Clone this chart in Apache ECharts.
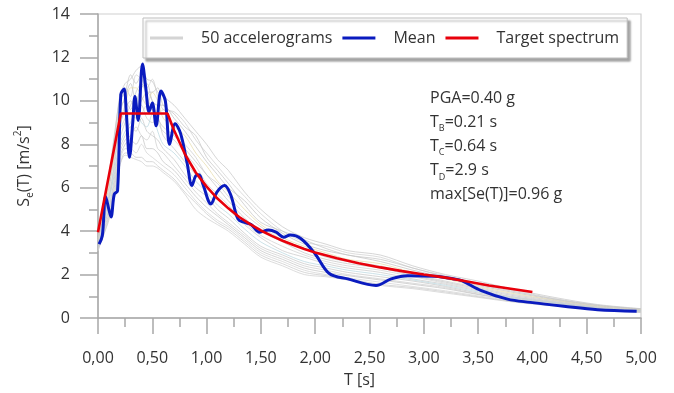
<!DOCTYPE html>
<html><head><meta charset="utf-8">
<script src="https://cdn.jsdelivr.net/npm/echarts@6/dist/echarts.min.js"></script>
<style>html,body{margin:0;padding:0;background:#fff}#c{width:674px;height:393px}</style>
</head><body><div id="c"></div>
<script>
// Periods (s) at which the accelerogram curves were read
const periods = [0,0.05,0.1,0.15,0.2,0.25,0.3,0.35,0.4,0.45,0.5,0.55,0.6,0.7,0.8,0.9,1.0,1.1,1.2,1.35,1.5,1.7,1.9,2.1,2.3,2.6,2.9,3.2,3.5,3.8,4.2,4.6,5.0];
// Representative accelerogram spectra (m/s^2)
const acc01 = [4.0,5.3,6.5,8.2,10.2,10.8,11.0,11.4,11.6,11.0,10.9,10.4,10.2,9.8,9.2,8.6,8.0,7.3,6.8,5.8,5.0,4.2,3.7,3.4,3.1,2.9,2.4,2.0,1.7,1.35,0.95,0.62,0.43];
const acc02 = [3.9,5.1,6.3,8.0,9.8,10.6,10.2,11.2,11.0,10.6,11.0,10.2,9.6,9.5,9.0,8.2,7.6,7.0,6.4,5.6,4.8,4.0,3.5,3.3,3.0,2.8,2.3,1.95,1.6,1.3,0.9,0.6,0.42];
const acc03 = [3.8,5.0,6.0,7.6,9.4,10.2,10.8,10.0,10.6,10.8,10.0,9.8,9.8,9.2,8.6,7.9,7.2,6.6,6.0,5.4,4.6,3.9,3.4,3.1,2.9,2.6,2.2,1.85,1.5,1.2,0.85,0.56,0.4];
const acc04 = [3.6,4.8,6.2,7.4,9.0,9.8,10.6,10.6,10.2,9.8,10.4,10.0,9.2,8.8,8.4,7.6,7.0,6.3,5.8,5.0,4.3,3.7,3.3,3.0,2.7,2.5,2.1,1.8,1.45,1.15,0.82,0.54,0.38];
const acc05 = [3.7,4.6,5.8,7.8,9.6,10.0,9.6,10.4,10.8,10.2,9.6,9.4,9.6,8.6,8.0,7.4,6.6,6.2,5.6,4.8,4.2,3.6,3.2,2.8,2.6,2.4,2.0,1.7,1.4,1.1,0.8,0.52,0.36];
const acc06 = [3.5,4.7,5.6,7.0,8.8,9.6,10.0,9.6,10.0,10.4,10.0,9.2,8.8,8.4,7.8,7.2,6.6,6.0,5.4,4.6,4.0,3.5,3.0,2.7,2.5,2.3,1.95,1.65,1.35,1.05,0.76,0.5,0.35];
const acc07 = [3.4,4.4,5.4,7.2,8.6,9.2,9.8,10.2,9.4,9.8,9.6,9.0,8.6,8.2,7.6,7.0,6.2,5.7,5.2,4.4,3.8,3.3,2.9,2.6,2.4,2.2,1.9,1.6,1.3,1.0,0.74,0.48,0.34];
const acc08 = [3.6,4.5,5.5,6.6,8.2,9.0,9.4,9.2,9.8,9.2,9.0,9.2,8.4,7.8,7.2,6.6,6.0,5.5,5.0,4.3,3.7,3.1,2.8,2.5,2.3,2.1,1.8,1.55,1.25,0.98,0.72,0.47,0.33];
const acc09 = [3.3,4.3,5.2,6.8,8.0,8.6,9.0,9.6,9.0,8.8,9.4,8.6,8.0,7.6,7.0,6.3,5.8,5.2,4.8,4.1,3.5,3.0,2.6,2.4,2.2,2.0,1.75,1.5,1.2,0.95,0.7,0.46,0.32];
const acc10 = [3.4,4.2,5.0,6.4,7.8,8.4,8.8,8.6,9.2,8.6,8.4,8.2,7.8,7.3,6.6,6.0,5.6,5.0,4.6,3.9,3.3,2.9,2.5,2.3,2.1,1.9,1.7,1.45,1.15,0.92,0.68,0.45,0.31];
const acc11 = [3.2,4.1,5.0,6.2,7.6,8.2,8.4,8.8,8.4,8.2,8.6,7.8,7.6,7.0,6.4,5.8,5.3,4.8,4.4,3.8,3.2,2.8,2.4,2.2,2.0,1.8,1.6,1.4,1.1,0.88,0.64,0.43,0.3];
const acc12 = [3.3,4.0,4.8,6.0,7.4,8.0,8.2,8.0,8.4,7.8,7.8,7.6,7.2,6.8,6.2,5.6,5.1,4.7,4.3,3.7,3.1,2.7,2.3,2.1,1.95,1.75,1.55,1.35,1.08,0.85,0.62,0.42,0.29];
const acc13 = [3.1,3.9,4.7,5.8,7.2,7.8,7.8,7.6,8.0,7.6,7.4,7.2,7.0,6.6,6.0,5.4,4.9,4.5,4.2,3.6,3.0,2.6,2.2,2.0,1.85,1.65,1.45,1.25,1.02,0.8,0.6,0.4,0.28];
const acc14 = [3.2,3.8,4.6,5.6,7.0,7.6,7.6,7.4,7.4,7.2,7.2,7.0,6.8,6.4,5.8,5.3,4.8,4.4,4.1,3.5,2.9,2.5,2.1,1.95,1.8,1.55,1.4,1.2,0.98,0.77,0.57,0.39,0.26];
const acc15 = [3.8,5.2,6.6,8.4,10.0,10.4,11.2,10.8,11.2,10.4,10.4,10.6,9.8,9.4,8.8,8.4,7.4,6.8,6.2,5.2,4.4,4.0,3.6,3.2,2.9,2.7,2.3,1.9,1.55,1.25,0.88,0.58,0.41];
const acc16 = [3.1,3.8,4.5,5.5,7.0,7.5,7.4,7.3,7.2,7.0,7.0,6.9,6.7,6.3,5.7,5.0,4.6,4.3,4.0,3.4,2.8,2.4,2.0,1.9,1.75,1.5,1.35,1.15,0.95,0.75,0.55,0.38,0.25];
const accelerograms = [acc01,acc02,acc03,acc04,acc05,acc06,acc07,acc08,acc09,acc10,acc11,acc12,acc13,acc14,acc15,acc16];
const accColors = ['#c6c6c6','#cfcfcf','#c2c2c2','#e6dba8','#cccccc','#c4c4c4','#d0d0d0','#c8c8c8','#b8d6df','#c6c6c6','#cdcdcd','#c3c3c3','#d2d2d2','#c9c9c9','#c5c5c5','#cecece'];

// Mean spectrum
const meanT  = [0.01,0.04,0.07,0.1,0.12,0.15,0.18,0.21,0.24,0.26,0.29,0.32,0.34,0.37,0.41,0.44,0.47,0.5,0.535,0.58,0.62,0.66,0.71,0.76,0.82,0.865,0.9,0.93,0.97,1.04,1.095,1.165,1.22,1.29,1.35,1.41,1.49,1.57,1.64,1.71,1.77,1.87,2.0,2.13,2.3,2.56,2.7,2.85,3.1,3.28,3.35,3.53,3.77,3.98,4.29,4.6,4.96];
const meanSa = [3.4,3.8,5.6,5.0,4.65,5.7,5.85,10.3,10.55,9.5,7.4,9.0,10.2,9.1,11.7,10.6,9.5,9.9,8.85,10.45,10.0,8.0,8.95,8.5,7.15,6.1,6.55,6.6,6.1,5.25,5.8,6.1,5.7,4.55,4.4,4.3,3.95,4.05,3.95,3.72,3.82,3.65,2.95,2.05,1.8,1.5,1.8,1.95,1.92,1.8,1.72,1.26,0.87,0.72,0.54,0.38,0.31];

// Target spectrum
const targetT  = [0,0.21,0.64,0.7,0.8,0.9,1.0,1.1,1.2,1.3,1.4,1.5,1.6,1.7,1.8,1.9,2.0,2.2,2.4,2.6,2.8,3.0,3.2,3.4,3.6,3.8,4.0];
const targetSa = [3.95,9.42,9.42,8.65,7.55,6.7,6.05,5.5,5.05,4.65,4.32,4.03,3.78,3.56,3.36,3.18,3.02,2.75,2.52,2.33,2.16,2.0,1.86,1.68,1.5,1.35,1.2];

const seriesNames = ['50 accelerograms','Mean','Target spectrum'];
const annotationLines = [
  ['PGA=0.40 g'],
  ['T','B','=0.21 s'],
  ['T','C','=0.64 s'],
  ['T','D','=2.9 s'],
  ['max[Se(T)]=0.96 g']
];

const FONT = "'Open Sans', sans-serif";
const TXT = '#333333';
const AX = '#a8a8a8';
const BLUE = '#0a1bbf';
const RED = '#e8000b';

const zip = (xs, ys) => xs.map((x, i) => [x, ys[i]]);

const series = [];
accelerograms.forEach((a, i) => {
  series.push({
    name: seriesNames[0], type: 'line', data: zip(periods, a),
    smooth: 0.3, showSymbol: false, symbol: 'none', z: 1, silent: true,
    lineStyle: { color: accColors[i], width: 0.8, opacity: 0.9 },
    itemStyle: { color: '#cfcfcf' }
  });
});
series.push({
  name: seriesNames[1], type: 'line', data: zip(meanT, meanSa),
  smooth: 0.35, showSymbol: false, symbol: 'none', z: 3,
  lineStyle: { color: BLUE, width: 3 }, itemStyle: { color: BLUE }
});
series.push({
  name: seriesNames[2], type: 'line', data: zip(targetT, targetSa),
  smooth: false, showSymbol: false, symbol: 'none', z: 4,
  lineStyle: { color: RED, width: 2.6 }, itemStyle: { color: RED }
});

const graphics = annotationLines.map((parts, i) => {
  const text = parts.length === 1 ? '{a|' + parts[0] + '}' : '{a|' + parts[0] + '}{s|' + parts[1] + '}{a|' + parts[2] + '}';
  return {
    type: 'text', left: 430, top: 90 + i * 24.2, z: 10,
    style: {
      text: text, font: '16px ' + FONT, fill: TXT,
      rich: {
        a: { fontSize: 16, fontFamily: FONT, color: TXT, lineHeight: 22 },
        s: { fontSize: 9, fontFamily: FONT, color: TXT, lineHeight: 9, verticalAlign: 'bottom' }
      }
    }
  };
});

const chart = echarts.init(document.getElementById('c'), null, { renderer: 'canvas' });
chart.setOption({
  animation: false,
  backgroundColor: '#ffffff',
  textStyle: { fontFamily: FONT },
  grid: { left: 98, right: 33, top: 14, bottom: 74, show: true, borderColor: '#cfcfcf', borderWidth: 1.2, backgroundColor: 'transparent' },
  legend: {
    data: [
      { name: seriesNames[0], itemStyle: { color: '#d4d4d4' } },
      { name: seriesNames[1] },
      { name: seriesNames[2] }
    ],
    left: 143, top: 18, icon: 'rect',
    padding: [12, 8, 12, 7], itemGap: 10, itemWidth: 33, itemHeight: 3,
    backgroundColor: '#ffffff', borderColor: '#bdbdbd', borderWidth: 1,
    shadowColor: 'rgba(0,0,0,0.35)', shadowBlur: 2, shadowOffsetX: 3, shadowOffsetY: 3,
    textStyle: { fontSize: 16, color: TXT, fontFamily: FONT, padding: [0, 0, 0, 13] },
    selectedMode: false
  },
  xAxis: {
    type: 'value', min: 0, max: 5, interval: 0.5,
    name: 'T [s]', nameLocation: 'middle', nameGap: 54,
    nameTextStyle: { fontSize: 16, color: TXT, fontFamily: FONT, padding: [0, 20, 0, 0] },
    axisLine: { show: true, lineStyle: { color: AX, width: 1.5 } },
    axisTick: { show: true, length: 16, lineStyle: { color: AX, width: 1.5 } },
    minorTick: { show: true, splitNumber: 2, length: 9, lineStyle: { color: AX, width: 1.5 } },
    splitLine: { show: false },
    axisLabel: { fontSize: 16, color: TXT, margin: 32, formatter: v => v.toFixed(2).replace('.', ',') }
  },
  yAxis: {
    type: 'value', min: 0, max: 14, interval: 2,
    name: '{a|S}{s|e}{a|(T) [m/s}{p|2}{a|]}', nameLocation: 'middle', nameGap: 63, nameRotate: 90,
    nameTextStyle: {
      color: TXT, fontFamily: FONT,
      rich: {
        a: { fontSize: 16, color: TXT, fontFamily: FONT, lineHeight: 22 },
        s: { fontSize: 10, color: TXT, fontFamily: FONT, lineHeight: 10, verticalAlign: 'bottom' },
        p: { fontSize: 10, color: TXT, fontFamily: FONT, lineHeight: 10, verticalAlign: 'top' }
      }
    },
    axisLine: { show: true, lineStyle: { color: AX, width: 1.5 } },
    axisTick: { show: true, length: 18, lineStyle: { color: AX, width: 1.5 } },
    minorTick: { show: true, splitNumber: 2, length: 9, lineStyle: { color: AX, width: 1.5 } },
    splitLine: { show: false },
    axisLabel: { fontSize: 16, color: TXT, margin: 28 }
  },
  graphic: graphics,
  series: series
});
</script>
</body></html>
